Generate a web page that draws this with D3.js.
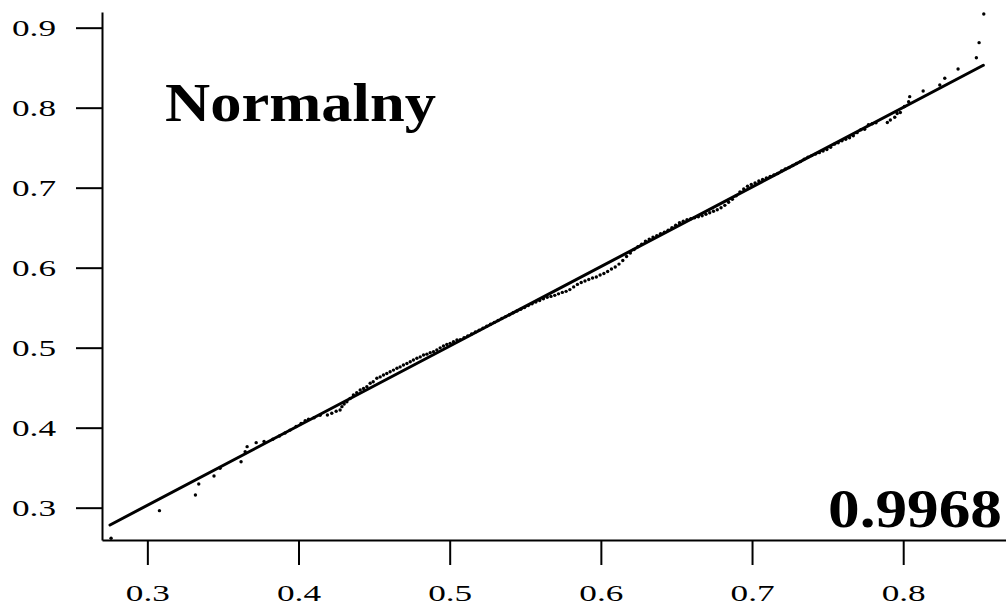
<!DOCTYPE html>
<html>
<head>
<meta charset="utf-8">
<script src="https://cdn.jsdelivr.net/npm/d3@7"></script>
<style>
  html, body { margin: 0; padding: 0; background: #fff; }
  svg { display: block; }
</style>
</head>
<body>
<svg id="chart" width="1006" height="608"></svg>
<script>
// Theoretical quantiles (x) and ordered sample values (y)
const theoretical = [
  0.2760, 0.3080, 0.3318, 0.3340, 0.3441, 0.3481, 0.3620, 0.3647, 0.3660, 0.3720,
  0.3772, 0.3830, 0.3874, 0.3911, 0.3944, 0.3984, 0.4017, 0.4044, 0.4066, 0.4103,
  0.4143, 0.4191, 0.4220, 0.4249, 0.4275, 0.4287, 0.4302, 0.4320, 0.4341, 0.4363,
  0.4385, 0.4408, 0.4430, 0.4452, 0.4474, 0.4494, 0.4518, 0.4540, 0.4562, 0.4584,
  0.4606, 0.4628, 0.4651, 0.4672, 0.4694, 0.4717, 0.4739, 0.4760, 0.4783, 0.4805,
  0.4827, 0.4849, 0.4871, 0.4893, 0.4915, 0.4937, 0.4959, 0.4981, 0.5003, 0.5025, 0.5048,
  0.5070, 0.5095, 0.5120, 0.5145, 0.5170, 0.5195, 0.5220, 0.5245, 0.5270, 0.5295,
  0.5320, 0.5345, 0.5370, 0.5395, 0.5420, 0.5445, 0.5470, 0.5495, 0.5520, 0.5545,
  0.5570, 0.5595, 0.5620, 0.5645, 0.5670, 0.5695, 0.5720, 0.5745, 0.5770, 0.5795,
  0.5820, 0.5845, 0.5870, 0.5895, 0.5920, 0.5945, 0.5970, 0.5995, 0.6020, 0.6045,
  0.6070, 0.6095, 0.6120, 0.6145, 0.6170, 0.6195, 0.6220, 0.6245, 0.6270, 0.6295,
  0.6320, 0.6345, 0.6370, 0.6395, 0.6420, 0.6445, 0.6470, 0.6495, 0.6520, 0.6545,
  0.6570, 0.6595, 0.6620, 0.6645, 0.6670, 0.6695, 0.6720, 0.6745, 0.6770, 0.6795,
  0.6820, 0.6845, 0.6870, 0.6895, 0.6920, 0.6945, 0.6970, 0.6995, 0.7020, 0.7045,
  0.7070, 0.7095, 0.7120, 0.7145, 0.7170, 0.7195, 0.7220, 0.7245, 0.7270, 0.7295,
  0.7320, 0.7345, 0.7370, 0.7395, 0.7420, 0.7445, 0.7470, 0.7495, 0.7520, 0.7545,
  0.7570, 0.7595, 0.7620, 0.7645, 0.7670, 0.7695, 0.7720, 0.7745, 0.7770, 0.7795,
  0.7820,
  0.7895, 0.7915, 0.7944, 0.7960, 0.7981, 0.8008, 0.8036, 0.8043, 0.8132, 0.8242,
  0.8275, 0.8363, 0.8484, 0.8502, 0.8533
];

const sample = [
  0.2617, 0.2963, 0.3159, 0.3296, 0.3396, 0.3493, 0.3575, 0.3700, 0.3763, 0.3813,
  0.3828, 0.3855, 0.3896, 0.3934, 0.3970, 0.4015, 0.4052, 0.4088, 0.4105, 0.4125,
  0.4155, 0.4159, 0.4180, 0.4205, 0.4221, 0.4263, 0.4296, 0.4325, 0.4365, 0.4409,
  0.4437, 0.4471, 0.4490, 0.4513, 0.4555, 0.4575, 0.4618, 0.4635, 0.4659, 0.4678,
  0.4700, 0.4720, 0.4742, 0.4760, 0.4784, 0.4802, 0.4825, 0.4846, 0.4867, 0.4885,
  0.4909, 0.4919, 0.4938, 0.4950, 0.4971, 0.4998, 0.5021, 0.5040, 0.5054, 0.5075, 0.5096,
  0.5101, 0.5124, 0.5148, 0.5172, 0.5196, 0.5220, 0.5245, 0.5268, 0.5292, 0.5316,
  0.5340, 0.5364, 0.5388, 0.5412, 0.5436, 0.5458, 0.5480, 0.5503, 0.5526, 0.5549,
  0.5570, 0.5590, 0.5611, 0.5630, 0.5641, 0.5654, 0.5673, 0.5691, 0.5704, 0.5726,
  0.5760, 0.5791, 0.5815, 0.5834, 0.5853, 0.5871, 0.5884, 0.5909, 0.5928, 0.5952,
  0.5983, 0.6008, 0.6045, 0.6089, 0.6139, 0.6183, 0.6227, 0.6263, 0.6294, 0.6332,
  0.6357, 0.6382, 0.6401, 0.6426, 0.6444, 0.6469, 0.6500, 0.6531, 0.6562, 0.6581,
  0.6600, 0.6612, 0.6624, 0.6636, 0.6649, 0.6668, 0.6686, 0.6705, 0.6724, 0.6749,
  0.6779, 0.6817, 0.6854, 0.6898, 0.6948, 0.6985, 0.7017, 0.7041, 0.7059, 0.7084,
  0.7103, 0.7122, 0.7140, 0.7159, 0.7177, 0.7208, 0.7233, 0.7252, 0.7277, 0.7302,
  0.7326, 0.7357, 0.7382, 0.7401, 0.7420, 0.7438, 0.7457, 0.7476, 0.7506, 0.7544,
  0.7562, 0.7587, 0.7606, 0.7625, 0.7650, 0.7688, 0.7724, 0.7730, 0.7787, 0.7799,
  0.7812,
  0.7815, 0.7846, 0.7880, 0.7928, 0.7940, 0.8015, 0.8075, 0.8138, 0.8209, 0.8284,
  0.8368, 0.8484, 0.8625, 0.8813, 0.9171
];

// Reference line endpoints
const refLineX = [0.2753, 0.8530];
const refLineY = [0.2784, 0.8530];

// Tick values
const xTicks = [0.3, 0.4, 0.5, 0.6, 0.7, 0.8];
const yTicks = [0.3, 0.4, 0.5, 0.6, 0.7, 0.8, 0.9];

const titleText = "Normalny";
const statText = "0.9968";

const svg = d3.select("#chart");
const serif = "'Liberation Serif', 'Times New Roman', serif";

const x = d3.scaleLinear().domain([0.270, 0.868]).range([102, 1006]);
const y = d3.scaleLinear().domain([0.2596, 0.9196]).range([540, 12]);

const fmt = d3.format(".1f");

// X axis
const gx = svg.append("g")
  .attr("transform", "translate(0,540)")
  .call(d3.axisBottom(x).tickValues(xTicks).tickSize(25).tickSizeOuter(0).tickFormat(fmt));
gx.select(".domain").attr("stroke-width", 2);
gx.selectAll(".tick line").attr("stroke-width", 2);
gx.selectAll(".tick text")
  .attr("y", 61).attr("dy", null)
  .attr("font-family", serif).attr("font-size", 24)
  .attr("fill", "#000")
  .attr("textLength", 44).attr("lengthAdjust", "spacingAndGlyphs");

// Y axis
const gy = svg.append("g")
  .attr("transform", "translate(102,0)")
  .call(d3.axisLeft(y).tickValues(yTicks).tickSize(26).tickSizeOuter(0).tickFormat(fmt));
gy.select(".domain").attr("stroke-width", 2);
gy.selectAll(".tick line").attr("stroke-width", 2);
gy.selectAll(".tick text")
  .attr("x", -46).attr("dy", null).attr("y", 8)
  .attr("text-anchor", "end")
  .attr("font-family", serif).attr("font-size", 24)
  .attr("fill", "#000")
  .attr("textLength", 44).attr("lengthAdjust", "spacingAndGlyphs");
svg.selectAll("g").attr("font-family", serif);

// Sample points
const pts = theoretical.map((t, i) => [t, sample[i]]);
svg.append("g")
  .selectAll("circle")
  .data(pts)
  .join("circle")
  .attr("cx", d => x(d[0]))
  .attr("cy", d => y(d[1]))
  .attr("r", 1.7)
  .attr("fill", "#000");

// Reference line
svg.append("line")
  .attr("x1", x(refLineX[0])).attr("y1", y(refLineY[0]))
  .attr("x2", x(refLineX[1])).attr("y2", y(refLineY[1]))
  .attr("stroke", "#000")
  .attr("stroke-width", 3)
  .attr("stroke-linecap", "round");

// Title and statistic
svg.append("text")
  .attr("x", 165).attr("y", 121)
  .attr("font-family", serif).attr("font-weight", "bold").attr("font-size", 55)
  .attr("textLength", 271).attr("lengthAdjust", "spacingAndGlyphs")
  .attr("fill", "#000")
  .text(titleText);

svg.append("text")
  .attr("x", 1002).attr("y", 527)
  .attr("text-anchor", "end")
  .attr("font-family", serif).attr("font-weight", "bold").attr("font-size", 54)
  .attr("textLength", 174).attr("lengthAdjust", "spacingAndGlyphs")
  .attr("fill", "#000")
  .text(statText);
</script>
</body>
</html>
